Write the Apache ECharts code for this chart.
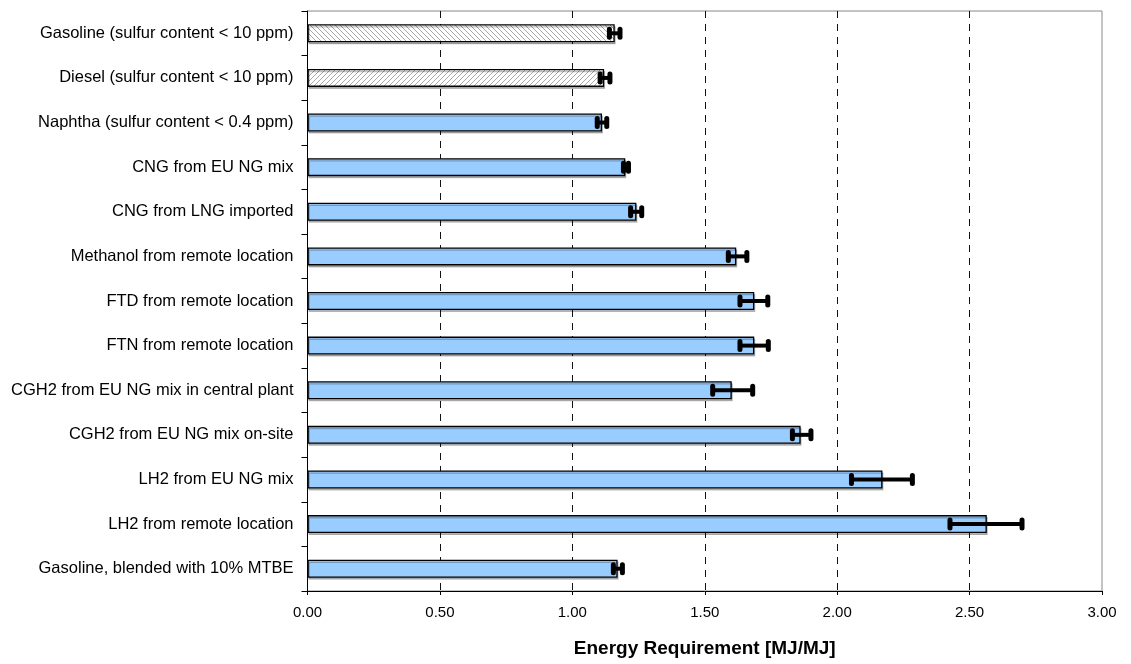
<!DOCTYPE html>
<html>
<head>
<meta charset="utf-8">
<script src="https://cdn.jsdelivr.net/npm/echarts@6/dist/echarts.min.js"></script>
<style>
html,body{margin:0;padding:0;background:#fff;}
#chart{width:1131px;height:664px;}
</style>
</head>
<body>
<div id="chart"></div>
<script>
var categories = [
  "Gasoline (sulfur content < 10 ppm)",
  "Diesel (sulfur content < 10 ppm)",
  "Naphtha (sulfur content < 0.4 ppm)",
  "CNG from EU NG mix",
  "CNG from LNG imported",
  "Methanol from remote location",
  "FTD from remote location",
  "FTN from remote location",
  "CGH2 from EU NG mix in central plant",
  "CGH2 from EU NG mix on-site",
  "LH2 from EU NG mix",
  "LH2 from remote location",
  "Gasoline, blended with 10% MTBE"
];
var values  = [1.16, 1.12, 1.112, 1.20, 1.242, 1.619, 1.687, 1.687, 1.602, 1.862, 2.171, 2.565, 1.171];
var errLow  = [1.14, 1.105, 1.094, 1.193, 1.220, 1.589, 1.633, 1.633, 1.530, 1.831, 2.054, 2.426, 1.155];
var errHigh = [1.18, 1.142, 1.130, 1.212, 1.262, 1.659, 1.738, 1.740, 1.681, 1.901, 2.284, 2.698, 1.189];

function hatch(dir) {
  var c = document.createElement('canvas');
  c.width = 5; c.height = 5;
  var g = c.getContext('2d');
  g.fillStyle = '#ffffff';
  g.fillRect(0, 0, 5, 5);
  g.strokeStyle = '#a8a8a8';
  g.lineWidth = 1;
  g.beginPath();
  if (dir === 'back') {
    g.moveTo(-1, -1); g.lineTo(6, 6);
    g.moveTo(-1, 4); g.lineTo(1, 6);
    g.moveTo(4, -1); g.lineTo(6, 1);
  } else {
    g.moveTo(-1, 6); g.lineTo(6, -1);
    g.moveTo(-1, 1); g.lineTo(1, -1);
    g.moveTo(4, 6); g.lineTo(6, 4);
  }
  g.stroke();
  return {image: c, repeat: 'repeat'};
}

var barData = values.map(function (v, i) {
  var item = {value: v};
  if (i === 0) item.itemStyle = {color: hatch('back')};
  if (i === 1) item.itemStyle = {color: hatch('fwd')};
  return item;
});
var errData = categories.map(function (c, i) { return [errLow[i], errHigh[i], i]; });

var FONT = 'Arial, "Liberation Sans", sans-serif';
var chart = echarts.init(document.getElementById('chart'), null, {renderer: 'canvas'});
chart.setOption({
  animation: false,
  backgroundColor: '#ffffff',
  grid: {left: 307.5, right: 29, top: 11, bottom: 73, show: true, borderColor: '#888888', borderWidth: 1, backgroundColor: 'transparent'},
  xAxis: {
    type: 'value', min: 0, max: 3, interval: 0.5,
    name: 'Energy Requirement [MJ/MJ]', nameLocation: 'middle', nameGap: 48,
    nameTextStyle: {fontFamily: FONT, fontSize: 19, fontWeight: 'bold', color: '#000'},
    axisLine: {show: true, lineStyle: {color: '#000', width: 1}},
    axisTick: {show: true, length: 4, lineStyle: {color: '#000'}},
    axisLabel: {fontFamily: FONT, fontSize: 15, color: '#000', margin: 14,
      formatter: function (v) { return v.toFixed(2); }},
    splitLine: {show: true, lineStyle: {color: ['transparent', '#111', '#111', '#111', '#111', '#111', 'transparent'], type: [7, 6], width: 1}}
  },
  yAxis: {
    type: 'category', data: categories, inverse: true,
    axisLine: {show: true, lineStyle: {color: '#000', width: 1}},
    axisTick: {show: true, length: 6, lineStyle: {color: '#000'}},
    axisLabel: {fontFamily: FONT, fontSize: 16.5, color: '#000', margin: 14},
    splitLine: {show: false}
  },
  series: [
    {
      type: 'bar', data: barData, barWidth: 18,
      itemStyle: {color: '#99ccff', borderColor: '#000', borderWidth: 1.3,
        shadowColor: 'rgba(0,0,0,0.25)', shadowOffsetX: 1, shadowOffsetY: 2, shadowBlur: 0},
      z: 2
    },
    {
      type: 'custom', data: errData, z: 5,
      encode: {x: [0, 1], y: 2},
      renderItem: function (params, api) {
        var y = api.value(2);
        var p1 = api.coord([api.value(0), y]);
        var p2 = api.coord([api.value(1), y]);
        var capW = 5, capH = 13;
        return {
          type: 'group',
          children: [
            {type: 'line', shape: {x1: p1[0], y1: p1[1], x2: p2[0], y2: p2[1]}, style: {stroke: '#000', lineWidth: 4}},
            {type: 'rect', shape: {x: p1[0] - capW / 2, y: p1[1] - capH / 2, width: capW, height: capH, r: 2.5}, style: {fill: '#000'}},
            {type: 'rect', shape: {x: p2[0] - capW / 2, y: p2[1] - capH / 2, width: capW, height: capH, r: 2.5}, style: {fill: '#000'}}
          ]
        };
      }
    }
  ]
});
</script>
</body>
</html>
